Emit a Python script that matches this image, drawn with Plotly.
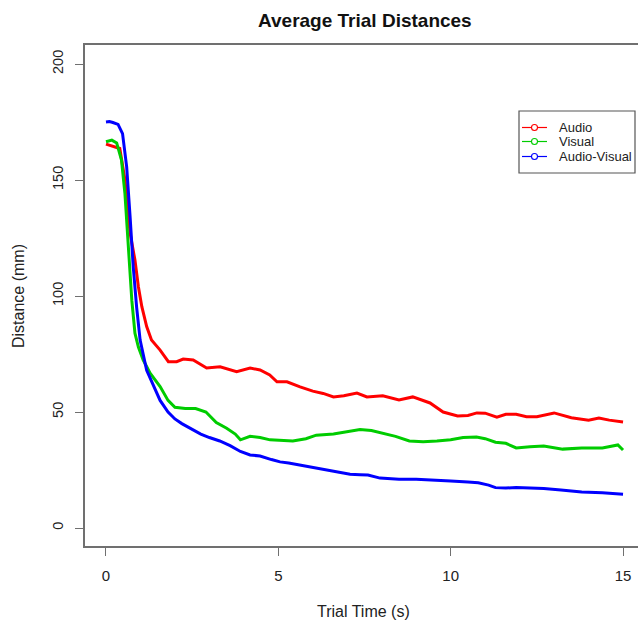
import plotly.graph_objects as go

# ---- data ----
audio_t = [0, 0.2, 0.4, 0.55, 0.7, 0.84, 0.94, 1.04, 1.18, 1.32, 1.57, 1.81, 2.05, 2.24, 2.53, 2.92,
           3.31, 3.79, 4.18, 4.47, 4.75, 4.96, 5.25, 5.63, 6.0, 6.3, 6.6, 6.9, 7.28, 7.57, 8.03, 8.5,
           8.9, 9.4, 9.78, 10.2, 10.5, 10.76, 11.0, 11.34, 11.6, 11.9, 12.2, 12.5, 13.0, 13.5, 14.0,
           14.3, 14.6, 15.0]
audio_d = [165.5, 164.6, 163.6, 150, 127, 115.5, 104, 95.4, 86.8, 81, 76.7, 71.7, 71.7, 72.8, 72.4, 69,
           69.5, 67.4, 69, 68.1, 66, 63, 63, 60.8, 59, 58, 56.5, 57, 58.2, 56.5, 57, 55.2,
           56.5, 53.9, 50, 48.3, 48.5, 49.6, 49.5, 47.8, 49, 49, 48, 48, 49.6, 47.5, 46.5,
           47.4, 46.5, 45.7]

visual_t = [0, 0.17, 0.31, 0.45, 0.55, 0.65, 0.75, 0.84, 0.94, 1.08, 1.28, 1.57, 1.8, 2.0, 2.3, 2.6,
            2.9, 3.2, 3.5, 3.75, 3.9, 4.18, 4.47, 4.76, 5.1, 5.42, 5.8, 6.1, 6.6, 7.0, 7.37, 7.7,
            8.0, 8.4, 8.8, 9.2, 9.6, 10.0, 10.36, 10.75, 11.0, 11.3, 11.6, 11.9, 12.3, 12.7, 13.25,
            13.8, 14.4, 14.7, 14.85, 15.0]
visual_d = [166.5, 167.2, 166, 158.6, 144, 120, 98, 84, 78, 72.4, 66.7, 61, 55, 52, 51.5, 51.5,
            50, 45.5, 43, 40.5, 38, 39.5, 39, 38, 37.8, 37.5, 38.5, 40, 40.5, 41.5, 42.5, 42,
            41, 39.5, 37.5, 37.2, 37.5, 38, 39, 39.2, 38.5, 37, 36.5, 34.5, 35, 35.3, 34,
            34.5, 34.5, 35.5, 35.8, 33.6]

av_t = [0, 0.1, 0.2, 0.35, 0.48, 0.6, 0.7, 0.79, 0.89, 0.99, 1.18, 1.42, 1.57, 1.8, 2.0, 2.2,
        2.5, 2.75, 3.0, 3.3, 3.6, 3.9, 4.18, 4.47, 4.8, 5.05, 5.3, 5.6, 6.0, 6.5, 7.08, 7.37,
        7.6, 7.95, 8.5, 9.0, 9.4, 10.0, 10.5, 10.8, 11.1, 11.3, 11.6, 11.9, 12.3, 12.7, 13.2,
        13.8, 14.4, 15.0]
av_d = [175, 175.2, 174.8, 174, 170, 155.7, 134, 112.6, 95, 81, 68, 59.5, 55, 50, 47, 45,
        42.5, 40.5, 39, 37.5, 35.5, 33, 31.5, 31, 29.5, 28.5, 28, 27.2, 26, 24.5, 23.2, 23.0,
        22.8, 21.5, 21, 21, 20.8, 20.3, 19.8, 19.5, 18.5, 17.4, 17.2, 17.5, 17.2, 17, 16.4,
        15.5, 15.2, 14.6]

series_names = ["Audio", "Visual", "Audio-Visual"]
series_colors = ["#FF0000", "#00CC00", "#0000FF"]
x_ticks = [0, 5, 10, 15]
y_ticks = [0, 50, 100, 150, 200]

FONT = "Arial, Liberation Sans, sans-serif"

# pixel layout helpers (plot area: x 85..638, y 45..546)
L, R, T, B = 85, 638, 45, 546
def px(x):
    return (x - L) / (R - L)
def py(y):
    return (B - y) / (B - T)

fig = go.Figure()
for t, d, c in zip([audio_t, visual_t, av_t], [audio_d, visual_d, av_d], series_colors):
    fig.add_trace(go.Scatter(x=t, y=d, mode="lines", line=dict(color=c, width=3),
                             showlegend=False, hoverinfo="skip"))

axis_col = "#707070"
shapes = []
annotations = [
    dict(text="<b>Average Trial Distances</b>", x=px(365), y=py(20), xref="paper", yref="paper",
         xanchor="center", yanchor="middle",
         showarrow=False, font=dict(size=19, color="#111111")),
    dict(text="Trial Time (s)", x=px(363), y=py(611), xref="paper", yref="paper",
         xanchor="center", yanchor="middle",
         showarrow=False, font=dict(size=16, color="#222222")),
    dict(text="Distance (mm)", x=px(18), y=py(296), xref="paper", yref="paper",
         xanchor="center", yanchor="middle",
         showarrow=False, textangle=-90, font=dict(size=16, color="#222222")),
]

# legend box drawn manually
shapes.append(dict(type="rect", xref="paper", yref="paper", x0=px(519), x1=px(635),
                   y0=py(173), y1=py(111), line=dict(color="#555555", width=1.2),
                   fillcolor="white", layer="above"))
item_y = [127.5, 141.5, 156.5]
for n, c, yy in zip(series_names, series_colors, item_y):
    shapes.append(dict(type="line", xref="paper", yref="paper", x0=px(522), x1=px(547),
                       y0=py(yy), y1=py(yy), line=dict(color=c, width=1.2), layer="above"))
    shapes.append(dict(type="circle", xref="paper", yref="paper", x0=px(531.5), x1=px(537.5),
                       y0=py(yy + 3), y1=py(yy - 3), line=dict(color=c, width=1.1),
                       fillcolor="white", layer="above"))
    annotations.append(dict(text=n, x=px(557), y=py(yy), xref="paper", yref="paper",
                            xanchor="left", yanchor="middle", showarrow=False,
                            font=dict(size=13, color="#222222")))

fig.update_layout(
    width=638, height=622,
    margin=dict(l=85, r=0, t=45, b=76),
    paper_bgcolor="white", plot_bgcolor="white",
    font=dict(family=FONT, size=14, color="#222222"),
    showlegend=False,
    xaxis=dict(range=[-0.609, 15.434], tickvals=x_ticks, ticktext=[str(v) for v in x_ticks],
               showgrid=False, zeroline=False, showline=True, linecolor=axis_col, linewidth=1.5,
               mirror=True, ticks="outside", ticklen=8, tickcolor=axis_col, tickwidth=1.2,
               ticklabelstandoff=7, tickfont=dict(size=15, color="#222222")),
    yaxis=dict(range=[-7.76, 208.2], tickvals=y_ticks, ticktext=[str(v) for v in y_ticks],
               showgrid=False, zeroline=False, showline=True, linecolor=axis_col, linewidth=1.5,
               ticks="outside", ticklen=8, tickcolor=axis_col, tickwidth=1.2, tickangle=-90,
               ticklabelstandoff=6, tickfont=dict(size=14.5, color="#222222")),
    shapes=shapes,
    annotations=annotations,
)

fig.write_html("out.html", config={"displayModeBar": False},
               post_script="document.body.style.margin='0';document.body.style.padding='0';")
